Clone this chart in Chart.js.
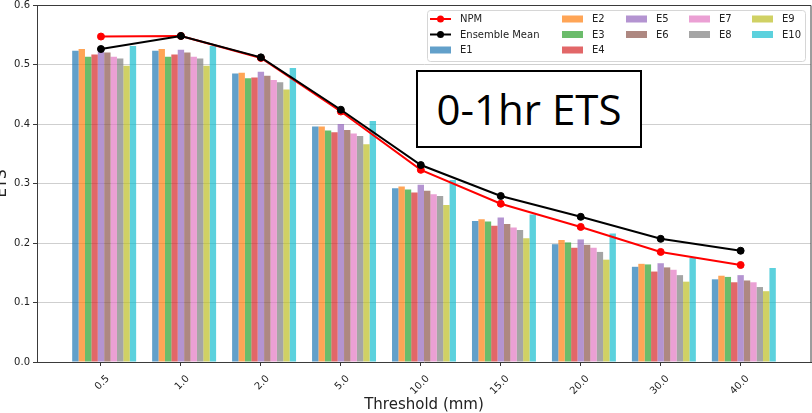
<!DOCTYPE html>
<html>
<head>
<meta charset="utf-8">
<script src="https://cdn.jsdelivr.net/npm/chart.js@4/dist/chart.umd.min.js"></script>
<style>
  html, body { margin: 0; padding: 0; background: #fff; }
  body { width: 812px; height: 413px; overflow: hidden; position: relative; }
  #wrap { position: absolute; left: -12px; top: 0; width: 828px; height: 420px; }
  #tag {
    position: absolute; left: 416px; top: 70px; width: 222px; height: 74px;
    border: 2px solid #000; background: #fff;
    display: flex; align-items: center; justify-content: center;
    font-family: "Open Sans", sans-serif; font-size: 42px; line-height: 1; color: #000;
  }
</style>
</head>
<body>
<div id="wrap"><canvas id="chart" width="828" height="420"></canvas></div>
<div id="tag">0-1hr ETS</div>
<script>
// Precipitation thresholds (mm)
const thresholds = ['0.5', '1.0', '2.0', '5.0', '10.0', '15.0', '20.0', '30.0', '40.0'];

// ETS of the NPM forecast and of the ensemble mean
const npm          = [0.547, 0.548, 0.511, 0.421, 0.323, 0.266, 0.227, 0.185, 0.163];
const ensembleMean = [0.526, 0.548, 0.512, 0.424, 0.331, 0.279, 0.244, 0.207, 0.187];

// ETS of each ensemble member
const e1  = [0.523, 0.523, 0.485, 0.396, 0.292, 0.237, 0.198, 0.160, 0.139];
const e2  = [0.526, 0.526, 0.486, 0.396, 0.295, 0.240, 0.205, 0.165, 0.145];
const e3  = [0.513, 0.513, 0.477, 0.389, 0.290, 0.236, 0.201, 0.164, 0.143];
const e4  = [0.517, 0.517, 0.478, 0.386, 0.285, 0.229, 0.192, 0.152, 0.134];
const e5  = [0.521, 0.525, 0.488, 0.400, 0.298, 0.243, 0.206, 0.166, 0.146];
const e6  = [0.520, 0.520, 0.481, 0.390, 0.288, 0.232, 0.197, 0.159, 0.137];
const e7  = [0.513, 0.513, 0.474, 0.384, 0.282, 0.226, 0.192, 0.155, 0.134];
const e8  = [0.510, 0.510, 0.470, 0.380, 0.279, 0.222, 0.185, 0.146, 0.126];
const e9  = [0.498, 0.498, 0.458, 0.366, 0.264, 0.208, 0.172, 0.135, 0.119];
const e10 = [0.531, 0.531, 0.494, 0.405, 0.306, 0.248, 0.216, 0.175, 0.158];

const members = [e1, e2, e3, e4, e5, e6, e7, e8, e9, e10];
const memberNames = ['E1', 'E2', 'E3', 'E4', 'E5', 'E6', 'E7', 'E8', 'E9', 'E10'];
const memberColors = [
  'rgba(31,119,180,0.7)', 'rgba(255,127,14,0.7)', 'rgba(44,160,44,0.7)',
  'rgba(214,39,40,0.7)', 'rgba(148,103,189,0.7)', 'rgba(140,86,75,0.7)',
  'rgba(227,119,194,0.7)', 'rgba(127,127,127,0.7)', 'rgba(188,189,34,0.7)',
  'rgba(23,190,207,0.7)'
];

const FONT = 'DejaVu Sans';
const INK = '#222';
const AXIS = '#3a3a3a';

// place each value at its threshold's index on the x axis
const toPoints = vals => vals.map((y, i) => ({ x: i, y }));

const datasets = [
  { type: 'line', label: 'NPM', data: toPoints(npm), borderColor: '#ff0000', backgroundColor: '#ff0000',
    borderWidth: 2, pointRadius: 3.5, pointBorderWidth: 1, tension: 0, order: 1 },
  { type: 'line', label: 'Ensemble Mean', data: toPoints(ensembleMean), borderColor: '#000', backgroundColor: '#000',
    borderWidth: 2, pointRadius: 3.5, pointBorderWidth: 1, tension: 0, order: 0 },
  // empty slot so that the tick sits on the centre of the E5 bar
  { type: 'bar', label: '', data: [], order: 2 },
  ...members.map((vals, k) => ({
    type: 'bar', label: memberNames[k], data: toPoints(vals),
    backgroundColor: memberColors[k], borderWidth: 0, order: 2
  }))
];

// frame on top/right of the plot area
const frame = {
  id: 'frame',
  afterDraw(chart) {
    const { ctx, chartArea: a } = chart;
    ctx.save();
    ctx.strokeStyle = AXIS;
    ctx.lineWidth = 1;
    ctx.beginPath();
    ctx.moveTo(a.left, Math.round(a.top) + 0.5);
    ctx.lineTo(a.right, Math.round(a.top) + 0.5);
    ctx.lineTo(a.right, a.bottom);
    ctx.stroke();
    ctx.restore();
  }
};

// five-column legend filled column by column, upper right of the plot
const columnLegend = {
  id: 'columnLegend',
  afterDraw(chart) {
    const { ctx, chartArea: a } = chart;
    const items = chart.data.datasets.filter(d => d.label);
    const ncol = 5;
    const nrow = Math.ceil(items.length / ncol);
    const fullCols = items.length - ncol * (nrow - 1);
    const colX = [3, 135, 199, 262, 325];
    const rowY = [9, 24.5, 40];
    const boxW = 378, boxH = 51;
    const bx = a.right - 6 - boxW, by = a.top + 5;

    ctx.save();
    ctx.beginPath();
    ctx.roundRect(bx + 0.5, by + 0.5, boxW, boxH, 3);
    ctx.fillStyle = 'rgba(255,255,255,0.8)';
    ctx.fill();
    ctx.strokeStyle = '#d6d6d6';
    ctx.lineWidth = 1;
    ctx.stroke();

    ctx.font = `10px "${FONT}"`;
    ctx.textBaseline = 'middle';
    ctx.textAlign = 'left';
    let idx = 0;
    for (let c = 0; c < ncol; c++) {
      const count = c < fullCols ? nrow : nrow - 1;
      for (let r = 0; r < count && idx < items.length; r++, idx++) {
        const d = items[idx];
        const x0 = bx + colX[c], y0 = by + rowY[r];
        if (d.type === 'line') {
          ctx.strokeStyle = d.borderColor;
          ctx.lineWidth = 2;
          ctx.beginPath();
          ctx.moveTo(x0, y0);
          ctx.lineTo(x0 + 21, y0);
          ctx.stroke();
          ctx.fillStyle = d.borderColor;
          ctx.beginPath();
          ctx.arc(x0 + 10.5, y0, 3.5, 0, Math.PI * 2);
          ctx.fill();
        } else {
          ctx.fillStyle = d.backgroundColor;
          ctx.fillRect(x0, y0 - 3.5, 21, 7);
        }
        ctx.fillStyle = INK;
        ctx.fillText(d.label, x0 + 30, y0 + 0.5);
      }
    }
    ctx.restore();
  }
};

new Chart(document.getElementById('chart'), {
  type: 'bar',
  data: { datasets },
  plugins: [frame, columnLegend],
  options: {
    responsive: false,
    animation: false,
    devicePixelRatio: 1,
    layout: { padding: { top: 5, left: 0, right: 0, bottom: 0 } },
    plugins: { legend: { display: false }, tooltip: { enabled: false } },
    datasets: { bar: { categoryPercentage: 0.88, barPercentage: 1 } },
    scales: {
      x: {
        type: 'linear',
        offset: false,
        min: -0.8,
        max: 8.88,
        afterBuildTicks: s => { s.ticks = thresholds.map((_, i) => ({ value: i })); },
        afterFit: s => { s.height = 58; s.paddingLeft = 0; s.paddingRight = 0; },
        ticks: {
          autoSkip: false, minRotation: 45, maxRotation: 45, labelOffset: 7, padding: 7,
          color: INK, font: { family: FONT, size: 10 },
          callback: (v, i) => thresholds[i]
        },
        grid: { offset: false, drawOnChartArea: false, drawTicks: true, tickLength: 4, tickColor: AXIS },
        border: { color: AXIS, width: 1 },
        title: { display: true, text: 'Threshold (mm)', color: INK,
                 font: { family: FONT, size: 15 }, padding: { top: 0, bottom: 5.5 } }
      },
      y: {
        min: 0,
        max: 0.6,
        afterFit: s => { s.width = 49; s.paddingTop = 0; s.paddingBottom = 0; },
        ticks: { stepSize: 0.1, padding: 3, color: INK, font: { family: FONT, size: 10 },
                 callback: v => v.toFixed(1) },
        grid: { color: '#cfcfcf', lineWidth: 1, tickLength: 4, tickColor: AXIS },
        border: { color: AXIS, width: 1 },
        title: { display: true, text: 'ETS', color: INK,
                 font: { family: FONT, size: 15 }, padding: { top: 5, bottom: 0 } }
      }
    }
  }
});
</script>
</body>
</html>
